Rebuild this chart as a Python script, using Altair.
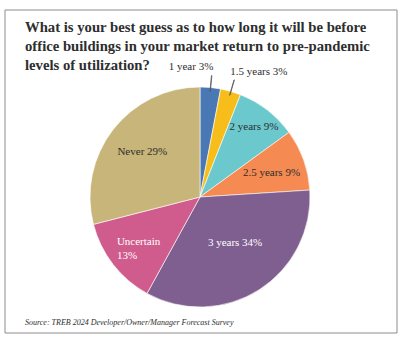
import altair as alt
import pandas as pd

categories = ["1 year", "1.5 years", "2 years", "2.5 years", "3 years", "Uncertain", "Never"]
values = [3, 3, 9, 9, 34, 13, 29]
labels = ["1 year 3%", "1.5 years 3%", "2 years 9%", "2.5 years 9%", "3 years 34%", "Uncertain\n13%", "Never 29%"]
colors = ["#4a78b5", "#f7be1b", "#6bc8cc", "#f58a52", "#7f5e90", "#d05c8d", "#c8b57a"]
title_lines = [
    "What is your best guess as to how long it will be before",
    "office buildings in your market return to pre-pandemic",
    "levels of utilization?",
]
source = "Source: TREB 2024 Developer/Owner/Manager Forecast Survey"

df = pd.DataFrame({"cat": categories, "value": values, "label": labels, "idx": list(range(len(values)))})
one = pd.DataFrame({"k": [0]})

SERIF = "Liberation Serif"
TXT = "#2e2e2e"
theta_scale = alt.Scale(domain=[0, 100], range=[0, 6.283185307179586])

base = alt.Chart(df).transform_window(
    cum="sum(value)", sort=[alt.SortField("idx")], frame=[None, 0]
).transform_calculate(
    mid="datum.cum - datum.value / 2",
    mid2="datum.cum - datum.value / 2 + 0.05",
    start="datum.cum - datum.value",
)

pie = base.mark_arc(radius=110, stroke="white", strokeWidth=0.6).encode(
    theta=alt.Theta("start:Q", scale=theta_scale, stack=None),
    theta2="cum:Q",
    color=alt.Color("cat:N", scale=alt.Scale(domain=categories, range=colors), legend=None),
)

leaders = base.transform_filter(alt.datum.idx < 2).mark_arc(
    radius=106, radius2=122, fill=None, stroke="#555555", strokeWidth=0.8
).encode(
    theta=alt.Theta("mid:Q", scale=theta_scale, stack=None),
    theta2="mid2:Q",
)

label_style = {
    "1 year": dict(radius=131, align="right", dx=1, dy=0, color=TXT),
    "1.5 years": dict(radius=130, align="left", dx=-6, dy=0, color=TXT),
    "2 years": dict(radius=88, align="center", dx=0, dy=0, color=TXT),
    "2.5 years": dict(radius=76, align="center", dx=0, dy=2, color=TXT),
    "3 years": dict(radius=58, align="center", dx=4, dy=-3, color="white"),
    "Uncertain": dict(radius=90, align="left", dx=-12, dy=-10, color="white"),
    "Never": dict(radius=73, align="center", dx=0, dy=0, color=TXT),
}

label_layers = []
for cat, st in label_style.items():
    label_layers.append(
        base.transform_filter(alt.datum.cat == cat).mark_text(
            font=SERIF, fontSize=11, baseline="middle", lineBreak="\n", lineHeight=14, **st
        ).encode(
            theta=alt.Theta("mid:Q", scale=theta_scale, stack=None),
            text="label:N",
        )
    )

frame = alt.Chart(one).mark_rect(fill=None, stroke="#8c8c8c", strokeWidth=1).encode(
    x=alt.value(-85), x2=alt.value(307), y=alt.value(-77), y2=alt.value(246)
)

title = alt.Chart(one).mark_text(
    font=SERIF, fontSize=14.7, fontWeight="bold", align="left", baseline="top",
    lineHeight=19, color=TXT
).encode(
    x=alt.value(-65), y=alt.value(-67), text=alt.value(title_lines)
)

src = alt.Chart(one).mark_text(
    font=SERIF, fontSize=8, fontStyle="italic", align="left", baseline="middle", color=TXT
).encode(x=alt.value(-65), y=alt.value(236), text=alt.value(source))

chart = alt.layer(frame, pie, leaders, *label_layers, title, src).properties(
    width=220, height=220,
    padding={"left": 90, "top": 87, "right": 95, "bottom": 34},
    autosize="none",
    background="white",
).configure_view(stroke=None)

chart.save("out.html", embed_options={"renderer": "svg", "actions": False})
